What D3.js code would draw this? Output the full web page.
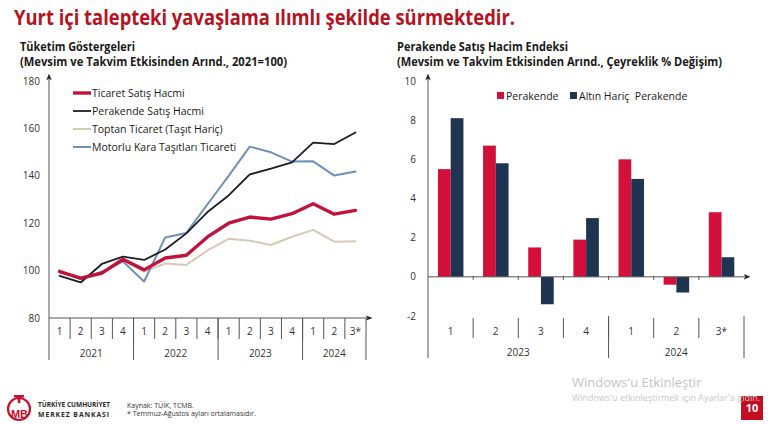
<!DOCTYPE html>
<html><head><meta charset="utf-8">
<script src="https://cdn.jsdelivr.net/npm/d3@7"></script>
<style>
html,body{margin:0;padding:0;background:#fff;}
svg{display:block;font-family:"Open Sans",sans-serif;}
</style></head>
<body><svg id="c" width="770" height="424"></svg>
<script>
// ---------- DATA ----------
const quarters = ["1","2","3","4","1","2","3","4","1","2","3","4","1","2","3*"];
const years = ["2021","2022","2023","2024"];
const yearSpans = [4,4,4,3];
const ticaret   = [99.6,96.8,98.9,104.8,100.3,105.3,106.5,114.2,120.0,122.6,121.7,124.0,128.2,123.8,125.4];
const perakende = [97.8,95.0,102.8,105.9,104.5,108.9,115.7,124.7,131.7,140.6,143.0,145.7,154.0,153.4,158.3];
const toptan    = [100.3,96.4,98.6,104.4,99.6,103.0,102.4,108.5,113.4,112.6,110.8,114.3,117.2,112.2,112.4];
const motorlu   = [99.6,96.4,99.6,103.8,95.4,114.0,115.9,128.0,140.0,152.3,149.9,146.0,146.1,140.1,141.8];
const lineNames = ["Ticaret Satış Hacmi","Perakende Satış Hacmi","Toptan Ticaret (Taşıt Hariç)","Motorlu Kara Taşıtları Ticareti"];
const leftYTicks = [80,100,120,140,160,180];

const barQuarters = ["1","2","3","4","1","2","3*"];
const barYears = ["2023","2024"];
const barYearSpans = [4,3];
const perakendeBar = [5.5,6.7,1.5,1.9,6.0,-0.4,3.3];
const altinHaric   = [8.1,5.8,-1.4,3.0,5.0,-0.8,1.0];
const barNames = ["Perakende","Altın Hariç  Perakende"];
const rightYTicks = [-2,0,2,4,6,8,10];

// ---------- STYLE ----------
const lineColors = ["#c0123c","#1b1d24","#d8c8b6","#6d91b8"];
const lineWidths = [3.4,1.8,2.0,2.0];
const barColors = ["#d2103a","#1f3450"];
const axisColor = "#555";
const textColor = "#333";

const svg = d3.select("#c");

// Title
svg.append("text").attr("x",14).attr("y",25)
  .attr("font-size",21).attr("font-weight",700).attr("fill","#b3141f")
  .attr("textLength",501).attr("lengthAdjust","spacingAndGlyphs")
  .text("Yurt içi talepteki yavaşlama ılımlı şekilde sürmektedir.");

// Subtitles
function sub(x,y,t,w){
  svg.append("text").attr("x",x).attr("y",y).attr("font-size",11.5).attr("font-weight",700)
    .attr("fill","#1a1a1a").attr("textLength",w).attr("lengthAdjust","spacingAndGlyphs").text(t);
}
sub(20,51,"Tüketim Göstergeleri",115);
sub(20,66,"(Mevsim ve Takvim Etkisinden Arınd., 2021=100)",267);
sub(397,51,"Perakende Satış Hacim Endeksi",171);
sub(397,66,"(Mevsim ve Takvim Etkisinden Arınd., Çeyreklik % Değişim)",325);

// arrow marker
const defs = svg.append("defs");
defs.append("marker").attr("id","arr").attr("viewBox","0 0 10 10").attr("refX",5).attr("refY",5)
  .attr("markerWidth",7).attr("markerHeight",7).attr("orient","auto")
  .append("path").attr("d","M0,1 L10,5 L0,9 L3,5 Z").attr("fill","#222");

// ---------- LEFT CHART ----------
const qKeys = quarters.map((q,i)=>i);
const xL = d3.scaleBand().domain(qKeys).range([49,366]);
const yL = d3.scaleLinear().domain([80,180]).range([318,81]);
const gL = svg.append("g");

gL.selectAll("text.yt").data(leftYTicks).join("text")
  .attr("x",40).attr("y",d=>yL(d)+3.5).attr("text-anchor","end")
  .attr("font-size",10).attr("fill",textColor).text(d=>d);

// axes
gL.append("line").attr("x1",49).attr("x2",49).attr("y1",360).attr("y2",yL(180)-4)
  .attr("stroke",axisColor).attr("stroke-width",1).attr("marker-end","url(#arr)");
gL.append("line").attr("x1",49).attr("x2",369).attr("y1",yL(80)).attr("y2",yL(80))
  .attr("stroke",axisColor).attr("stroke-width",1).attr("marker-end","url(#arr)");

// quarter separators
gL.selectAll("line.qs").data(qKeys.slice(1)).join("line")
  .attr("x1",d=>xL(d)).attr("x2",d=>xL(d)).attr("y1",318).attr("y2",339)
  .attr("stroke",axisColor);
gL.append("line").attr("x1",xL.range()[1]).attr("x2",xL.range()[1]).attr("y1",318).attr("y2",360).attr("stroke",axisColor);
gL.selectAll("text.q").data(quarters).join("text")
  .attr("x",(d,i)=>xL(i)+xL.bandwidth()/2).attr("y",335).attr("text-anchor","middle")
  .attr("font-size",10).attr("fill",textColor).text(d=>d);
// year separators + labels
let acc=0;
years.forEach((yr,j)=>{
  const x0 = xL(acc), x1 = acc+yearSpans[j] < quarters.length ? xL(acc+yearSpans[j]) : xL.range()[1];
  if(acc>0) gL.append("line").attr("x1",x0).attr("x2",x0).attr("y1",318).attr("y2",360).attr("stroke",axisColor);
  gL.append("text").attr("x",(x0+x1)/2).attr("y",357).attr("text-anchor","middle")
    .attr("font-size",10).attr("fill",textColor).text(yr);
  acc += yearSpans[j];
});

const series = [ticaret,perakende,toptan,motorlu];
const line = d3.line().x((d,i)=>xL(i)+xL.bandwidth()/2).y(d=>yL(d));
[2,3,1,0].forEach(k=>{
  gL.append("path").datum(series[k]).attr("d",line).attr("fill","none")
    .attr("stroke",lineColors[k]).attr("stroke-width",lineWidths[k])
    .attr("stroke-linejoin","round").attr("stroke-linecap","round");
});
// legend
lineNames.forEach((n,k)=>{
  const y = 93 + k*18;
  gL.append("line").attr("x1",73).attr("x2",91).attr("y1",y).attr("y2",y)
    .attr("stroke",lineColors[k]).attr("stroke-width",lineWidths[k]);
  gL.append("text").attr("x",92).attr("y",y+4).attr("font-size",10.5).attr("fill","#1a1a1a").text(n);
});

// ---------- RIGHT CHART ----------
const bKeys = barQuarters.map((q,i)=>i);
const xR = d3.scaleBand().domain(bKeys).range([428,744]);
const yR = d3.scaleLinear().domain([-2,10]).range([316,81]);
const bw = xR.bandwidth();
const x1 = d3.scaleBand().domain([0,1]).range([bw*0.22,bw*0.785]);
const gR = svg.append("g");

gR.selectAll("text.yt").data(rightYTicks).join("text")
  .attr("x",416).attr("y",d=>yR(d)+3.5).attr("text-anchor","end")
  .attr("font-size",10).attr("fill",textColor).text(d=>d);

const bars = [perakendeBar, altinHaric];
bars.forEach((vals,s)=>{
  gR.selectAll("rect.s"+s).data(vals).join("rect")
    .attr("x",(d,i)=>xR(i)+x1(s)).attr("width",x1.bandwidth())
    .attr("y",d=>yR(Math.max(0,d))).attr("height",d=>Math.abs(yR(d)-yR(0)))
    .attr("fill",barColors[s]);
});

gR.append("line").attr("x1",428).attr("x2",428).attr("y1",358).attr("y2",yR(10)-4)
  .attr("stroke",axisColor).attr("marker-end","url(#arr)");
gR.append("line").attr("x1",428).attr("x2",747).attr("y1",yR(0)).attr("y2",yR(0))
  .attr("stroke",axisColor).attr("marker-end","url(#arr)");
gR.selectAll("line.zt").data(bKeys.slice(1)).join("line")
  .attr("x1",d=>xR(d)).attr("x2",d=>xR(d)).attr("y1",yR(0)-1).attr("y2",yR(0)+3).attr("stroke",axisColor);

gR.selectAll("line.qs").data(bKeys.slice(1)).join("line")
  .attr("x1",d=>xR(d)).attr("x2",d=>xR(d)).attr("y1",318).attr("y2",338).attr("stroke",axisColor);
gR.append("line").attr("x1",xR.range()[1]).attr("x2",xR.range()[1]).attr("y1",316).attr("y2",358).attr("stroke",axisColor);
gR.selectAll("text.q").data(barQuarters).join("text")
  .attr("x",(d,i)=>xR(i)+bw/2).attr("y",335).attr("text-anchor","middle")
  .attr("font-size",10).attr("fill",textColor).text(d=>d);
acc=0;
barYears.forEach((yr,j)=>{
  const x0 = xR(acc), xe = acc+barYearSpans[j] < barQuarters.length ? xR(acc+barYearSpans[j]) : xR.range()[1];
  if(acc>0) gR.append("line").attr("x1",x0).attr("x2",x0).attr("y1",316).attr("y2",358).attr("stroke",axisColor);
  gR.append("text").attr("x",(x0+xe)/2).attr("y",356).attr("text-anchor","middle")
    .attr("font-size",10).attr("fill",textColor).text(yr);
  acc += barYearSpans[j];
});
// legend
const legX = [497,570];
barNames.forEach((n,s)=>{
  gR.append("rect").attr("x",legX[s]).attr("y",92).attr("width",7).attr("height",7).attr("fill",barColors[s]);
  gR.append("text").attr("x",legX[s]+9).attr("y",99.5).attr("font-size",10.5).attr("fill","#1a1a1a")
    .attr("xml:space","preserve").style("white-space","pre").text(n);
});

// ---------- FOOTER ----------
const f = svg.append("g");
f.append("circle").attr("cx",19).attr("cy",409).attr("r",11).attr("fill","none").attr("stroke","#c8102e").attr("stroke-width",2.2);
f.append("rect").attr("x",14).attr("y",395).attr("width",10).attr("height",2.5).attr("fill","#c8102e");
f.append("rect").attr("x",17.8).attr("y",395).attr("width",2.5).attr("height",8).attr("fill","#c8102e");
f.append("text").attr("x",19.5).attr("y",418).attr("text-anchor","middle").attr("font-size",11).attr("font-weight",700)
  .attr("fill","#c8102e").attr("font-family","Liberation Sans Narrow, Liberation Sans, sans-serif").text("MB");
f.append("text").attr("x",38).attr("y",407).attr("font-size",7.5).attr("font-weight",700).attr("fill","#2a2a2a")
  .attr("textLength",72).attr("lengthAdjust","spacingAndGlyphs").text("TÜRKİYE CUMHURİYET");
f.append("text").attr("x",38).attr("y",417).attr("font-size",7.5).attr("font-weight",700).attr("fill","#2a2a2a")
  .attr("textLength",72).attr("lengthAdjust","spacingAndGlyphs").attr("letter-spacing",1).text("MERKEZ BANKASI");
f.append("text").attr("x",127).attr("y",408).attr("font-size",7).attr("fill","#333").text("Kaynak: TÜİK, TCMB.");
f.append("text").attr("x",127).attr("y",416).attr("font-size",7).attr("fill","#333").text("* Temmuz-Ağustos ayları ortalamasıdır.");

f.append("text").attr("x",572).attr("y",387).attr("font-size",13).attr("fill","#c4c4c4").text("Windows'u Etkinleştir");
f.append("rect").attr("x",741).attr("y",396).attr("width",22).attr("height",24).attr("fill","#c40d20");
f.append("text").attr("x",752).attr("y",412).attr("text-anchor","middle").attr("font-size",11).attr("font-weight",700)
  .attr("fill","#fff").text("10");
f.append("text").attr("x",572).attr("y",401).attr("font-size",8.5).attr("fill","#c8c8c8")
  .attr("textLength",188).attr("lengthAdjust","spacingAndGlyphs").text("Windows'u etkinleştirmek için Ayarlar'a gidin.");
</script></body></html>
